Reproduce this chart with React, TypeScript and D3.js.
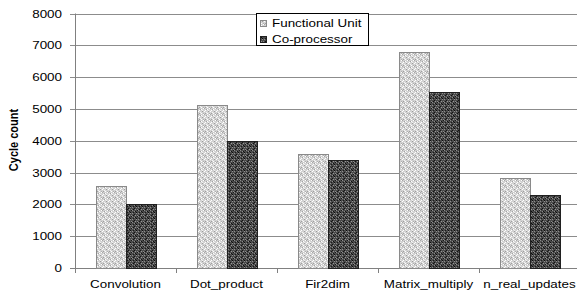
import React from "react";
import * as d3 from "d3";

const categories = ["Convolution", "Dot_product", "Fir2dim", "Matrix_multiply", "n_real_updates"];
const seriesNames = ["Functional Unit", "Co-processor"];
const functionalUnit = [2570, 5130, 3590, 6800, 2830];
const coProcessor = [2000, 4000, 3410, 5540, 2290];
const yTicks = [0, 1000, 2000, 3000, 4000, 5000, 6000, 7000, 8000];

const W = 577, H = 293;
const left = 75, right = 580, top = 13.5, bottom = 268;
const SX = 1.22;

// stipple tile layouts (style only)
const lightDots: [number, number, string][] = [
  [0, 0, "#a8a8a8"], [3, 1, "#ffffff"], [1, 2, "#ffffff"], [4, 3, "#9c9c9c"], [2, 4, "#f4f4f4"], [5, 5, "#b0b0b0"],
  [5, 0, "#ffffff"], [2, 1, "#a4a4a4"], [4, 2, "#f0f0f0"], [0, 3, "#ffffff"], [1, 5, "#a0a0a0"], [3, 5, "#ffffff"],
];
const darkDots: [number, number, string][] = [
  [0, 0, "#8c8c8c"], [3, 1, "#101010"], [1, 2, "#1a1a1a"], [4, 3, "#909090"], [2, 4, "#141414"], [5, 5, "#888888"],
  [5, 0, "#181818"], [2, 1, "#8a8a8a"], [4, 2, "#0c0c0c"], [0, 3, "#8e8e8e"], [1, 5, "#121212"], [3, 5, "#969696"],
];

function T({ x, y, anchor, children, size = 11, weight = "normal", rotate = 0 }: any) {
  const tr = rotate
    ? `translate(${x},${y}) rotate(${rotate}) scale(1,${SX})`
    : `translate(${x},${y}) scale(${SX},1)`;
  return (
    <text transform={tr} textAnchor={anchor} fontFamily="'Liberation Sans', Arial, sans-serif" fontSize={size} fontWeight={weight} fill="#000">
      {children}
    </text>
  );
}

export default function App() {
  const x0 = d3.scaleBand<string>().domain(categories).range([left, right]);
  const x1 = d3.scaleBand<number>().domain([0, 1]).range([0, x0.bandwidth()]).paddingOuter(0.7).paddingInner(0);
  const y = d3.scaleLinear().domain([0, 8000]).range([bottom, top]);
  const series = [functionalUnit, coProcessor];
  const fills = ["url(#pLight)", "url(#pDark)"];
  const strokes = ["#8a8a8a", "#202020"];
  const bounds = [...categories.map((c) => x0(c)!), right];

  return (
    <svg width={W} height={H} style={{ position: "absolute", left: 0, top: 0, background: "#fff" }}>
      <defs>
        <pattern id="pLight" width={6} height={6} patternUnits="userSpaceOnUse">
          <rect width={6} height={6} fill="#d2d2d2" />
          {lightDots.map(([px, py, c], i) => <rect key={i} x={px} y={py} width={1} height={1} fill={c} />)}
        </pattern>
        <pattern id="pDark" width={6} height={6} patternUnits="userSpaceOnUse">
          <rect width={6} height={6} fill="#4a4a4a" />
          {darkDots.map(([px, py, c], i) => <rect key={i} x={px} y={py} width={1} height={1} fill={c} />)}
        </pattern>
      </defs>

      {yTicks.map((t) => (
        <g key={t}>
          <line x1={70} x2={right} y1={Math.round(y(t)) + 0.5} y2={Math.round(y(t)) + 0.5} stroke={t === 0 ? "#808080" : "#8c8c8c"} strokeWidth={1} />
          <T x={62} y={Math.round(y(t)) + 4} anchor="end">{t}</T>
        </g>
      ))}
      <line x1={left + 0.5} x2={left + 0.5} y1={top} y2={bottom + 4} stroke="#808080" />
      {bounds.map((b, i) => (
        <line key={i} x1={Math.round(b) + 0.5} x2={Math.round(b) + 0.5} y1={bottom} y2={bottom + 5} stroke="#808080" />
      ))}

      {categories.map((c, ci) => (
        <g key={c}>
          {series.map((s, si) => (
            <rect key={si}
              x={Math.round(x0(c)! + x1(si)!) + 0.5}
              y={Math.round(y(s[ci])) + 0.5}
              width={Math.round(x1.bandwidth())}
              height={Math.round(bottom - y(s[ci]))}
              fill={fills[si]} stroke={strokes[si]} strokeWidth={1} />
          ))}
          <T x={x0(c)! + x0.bandwidth() / 2} y={288} anchor="middle">{c}</T>
        </g>
      ))}

      <T x={18} y={140} anchor="middle" weight="bold" rotate={-90}>Cycle count</T>

      <g>
        <rect x={256.5} y={13.5} width={112} height={32} fill="#fff" stroke="#000" />
        {seriesNames.map((n, i) => (
          <g key={n}>
            <rect x={260.5} y={20.5 + i * 16} width={6} height={6} fill={fills[i]} stroke={strokes[i]} />
            <T x={272} y={27 + i * 16} anchor="start">{n}</T>
          </g>
        ))}
      </g>
    </svg>
  );
}
